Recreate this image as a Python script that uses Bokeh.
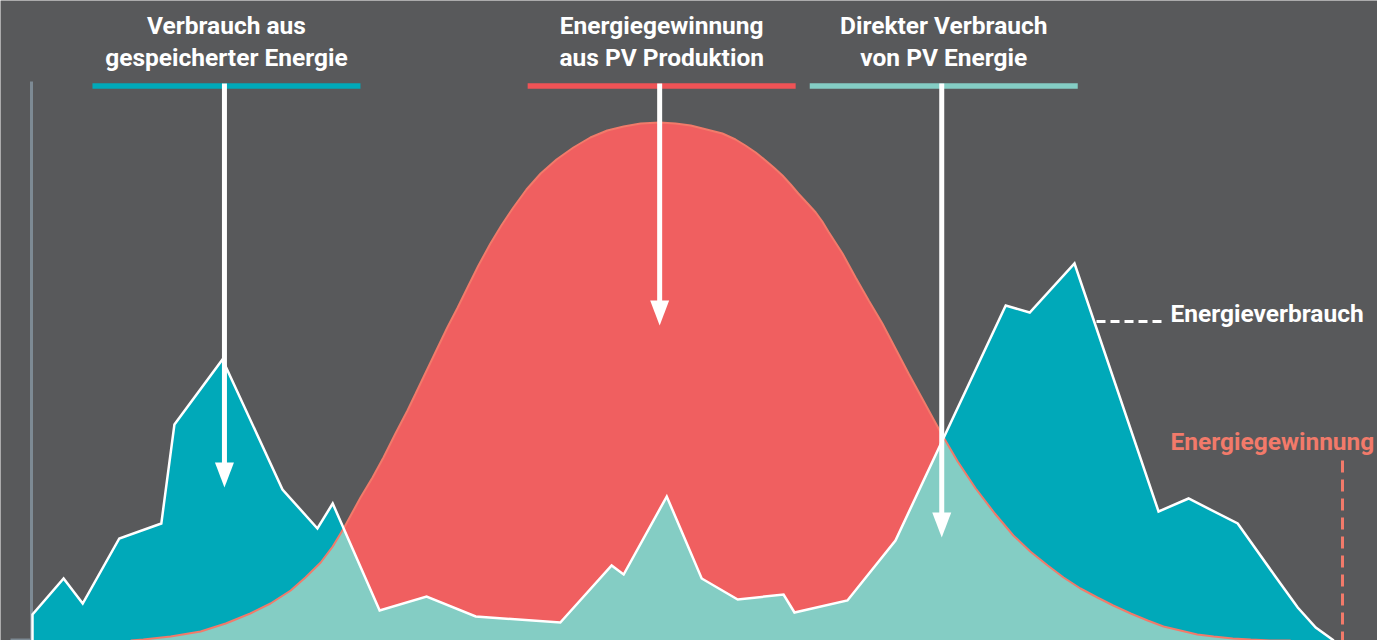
import numpy as np
from bokeh.plotting import figure
from bokeh.models import Range1d
from bokeh.core.properties import value
from bokeh.embed import file_html
from bokeh.resources import INLINE

# Household consumption over one day (hour of day, kW)
cons_hour = [0.00, 0.57, 0.92, 1.59, 2.36, 2.60, 3.48, 4.58, 5.22, 5.50, 6.36, 7.22,
             8.12, 9.67, 10.61, 10.83, 11.62, 12.26, 12.92, 13.76, 13.96, 14.93, 15.81,
             17.83, 18.27, 19.09, 20.63, 21.18, 22.08, 22.77, 23.18, 23.51, 23.84]
cons_kw = [0.26, 0.62, 0.37, 1.02, 1.17, 2.16, 2.81, 1.51, 1.12, 1.37, 0.30, 0.44,
           0.24, 0.18, 0.75, 0.66, 1.44, 0.62, 0.41, 0.46, 0.28, 0.40, 1.00,
           3.35, 3.28, 3.77, 1.29, 1.42, 1.17, 0.64, 0.33, 0.13, 0.00]

# PV production over the same day (hour of day, kW)
pv_hour = [1.80, 2.03, 2.53, 3.08, 3.54, 3.99, 4.36, 4.73, 5.00, 5.28, 5.50, 5.70,
           5.86, 6.01, 6.23, 6.43, 6.65, 6.87, 7.02, 7.16, 7.38, 7.60, 7.79, 7.97,
           8.17, 8.39, 8.59, 8.81, 9.05, 9.31, 9.60, 9.91, 10.22, 10.53, 10.83,
           11.14, 11.49, 11.78, 12.06, 12.35, 12.64, 12.88, 13.06, 13.25, 13.43,
           13.58, 13.74, 13.89, 14.03, 14.20, 14.35, 14.47, 14.58, 14.84, 15.08,
           15.32, 15.57, 15.81, 16.05, 16.34, 16.64, 16.95, 17.28, 17.63, 17.97,
           18.28, 18.60, 18.89, 19.20, 19.51, 19.80, 20.12, 20.43, 20.72, 21.03,
           21.34, 21.64, 21.99, 22.32, 22.68, 23.05]
pv_kw = [0.00, 0.01, 0.04, 0.09, 0.17, 0.27, 0.37, 0.50, 0.63, 0.78, 0.94, 1.12,
         1.28, 1.43, 1.63, 1.83, 2.07, 2.30, 2.47, 2.63, 2.88, 3.13, 3.33, 3.53,
         3.75, 3.97, 4.15, 4.33, 4.51, 4.67, 4.81, 4.93, 5.03, 5.10, 5.14,
         5.17, 5.18, 5.17, 5.15, 5.11, 5.07, 5.01, 4.95, 4.88, 4.80,
         4.73, 4.65, 4.56, 4.47, 4.37, 4.28, 4.19, 4.09, 3.87, 3.63,
         3.40, 3.17, 2.92, 2.67, 2.38, 2.08, 1.79, 1.52, 1.27, 1.05,
         0.89, 0.75, 0.63, 0.52, 0.43, 0.35, 0.27, 0.20, 0.14, 0.10,
         0.06, 0.04, 0.02, 0.01, 0.00, 0.00]

labels_top = [["Verbrauch aus", "gespeicherter Energie"],
              ["Energiegewinnung", "aus PV Produktion"],
              ["Direkter Verbrauch", "von PV Energie"]]
label_consumption = "Energieverbrauch"
label_production = "Energiegewinnung"

BG = "#58595b"
TEAL = "#00a9b9"
LIGHT = "#84cdc4"
RED = "#f05f60"
SALMON = "#f27a6a"
RED_BAR = "#ef5356"
AXIS = "#7d8a94"
FONT = value("Roboto")
FONT_SIZE = "24.5px"

W, H = 1377, 640
X0 = 32               # pixel column of hour 0
PX_H = 1310 / 24      # pixels per hour
PX_KW = 100           # pixels per kW


def hx(px):
    return (px - X0) / PX_H


def ky(top):
    return (H - top) / PX_KW


def overlap(xa, ya, xb, yb):
    """Lower envelope of two piecewise linear curves, with crossings."""
    xa, ya, xb, yb = map(np.asarray, (xa, ya, xb, yb))
    xs = np.union1d(xa, xb)
    xs = xs[(xs >= max(xa[0], xb[0])) & (xs <= min(xa[-1], xb[-1]))]
    a = np.interp(xs, xa, ya)
    b = np.interp(xs, xb, yb)
    ox, oy, cross = [], [], []
    for i in range(len(xs)):
        if i > 0:
            d0, d1 = a[i - 1] - b[i - 1], a[i] - b[i]
            if d0 * d1 < 0:
                t = d0 / (d0 - d1)
                xc = xs[i - 1] + t * (xs[i] - xs[i - 1])
                yc = a[i - 1] + t * (a[i] - a[i - 1])
                ox.append(xc)
                oy.append(yc)
                cross.append(xc)
        ox.append(xs[i])
        oy.append(min(a[i], b[i]))
    return ox, oy, cross


both_x, both_y, crossings = overlap(cons_hour, cons_kw, pv_hour, pv_kw)

p = figure(width=W, height=H, output_backend="svg", toolbar_location=None,
           x_range=Range1d(hx(0), hx(W)), y_range=Range1d(0, H / PX_KW),
           x_axis_location=None, y_axis_location=None, min_border=0,
           background_fill_color=BG, border_fill_color=BG, outline_line_color=None)
p.grid.visible = False

# vertical axis line
p.segment(x0=[hx(31)], y0=[ky(81)], x1=[hx(31)], y1=[0], line_color=AXIS, line_width=3)
p.segment(x0=[hx(10)], y0=[ky(639)], x1=[hx(31)], y1=[ky(639)], line_color=AXIS, line_width=2)

# areas: consumption, production, and the part of consumption covered by PV
p.varea(x=cons_hour, y1=0, y2=cons_kw, fill_color=TEAL)
p.varea(x=pv_hour, y1=0, y2=pv_kw, fill_color=RED)
p.varea(x=both_x, y1=0, y2=both_y, fill_color=LIGHT)

# outlines
p.line(pv_hour, pv_kw, line_color=SALMON, line_width=2)
p.line([cons_hour[0]] + cons_hour, [0] + cons_kw, line_color="white", line_width=2.5,
       line_join="miter")

# arrows to peak storage use, PV peak and crossing of both curves
morning = [i for i, h in enumerate(cons_hour) if h < 12]
peak_store = cons_hour[max(morning, key=lambda i: cons_kw[i])] + 2 / PX_H
peak_pv = pv_hour[int(np.argmax(pv_kw))]
direct = [c for c in crossings if c > 12][0] - 2 / PX_H
arrow_x = [peak_store, peak_pv, direct]
arrow_tip = [ky(487), ky(325), ky(537)]
bar_colors = [TEAL, RED_BAR, LIGHT]

bar_y = ky(85.5)
half_bar = 134 / PX_H
head_len = 25 / PX_KW
head_half = 9.5 / PX_H

for xa, tip, col, lines in zip(arrow_x, arrow_tip, bar_colors, labels_top):
    cx = xa + 2 / PX_H
    p.segment(x0=[cx - half_bar], y0=[bar_y], x1=[cx + half_bar], y1=[bar_y],
              line_color=col, line_width=5.5)
    p.segment(x0=[xa], y0=[ky(83)], x1=[xa], y1=[tip + head_len - 0.02],
              line_color="white", line_width=5)
    p.patch(x=[xa - head_half, xa + head_half, xa],
            y=[tip + head_len, tip + head_len, tip], fill_color="white", line_color=None)
    p.text(x=[cx, cx], y=[ky(25), ky(57)], text=lines,
           text_font=FONT, text_font_style="bold", text_font_size=FONT_SIZE,
           text_color="white", text_align="center", text_baseline="middle")

# right-hand labels for the two curves
p.segment(x0=[hx(1096)], y0=[ky(321)], x1=[hx(1163)], y1=[ky(321)],
          line_color="white", line_width=3, line_dash="9 5")
p.text(x=[hx(1170)], y=[ky(313)], text=[label_consumption],
       text_font=FONT, text_font_style="bold", text_font_size=FONT_SIZE,
       text_color="white", text_align="left", text_baseline="middle")
p.segment(x0=[24.0], y0=[ky(460)], x1=[24.0], y1=[0],
          line_color=SALMON, line_width=3, line_dash="12 7")
p.text(x=[hx(1170)], y=[ky(441)], text=[label_production],
       text_font=FONT, text_font_style="bold", text_font_size=FONT_SIZE,
       text_color=SALMON, text_align="left", text_baseline="middle")

open("out.html", "w").write(file_html(p, INLINE))
